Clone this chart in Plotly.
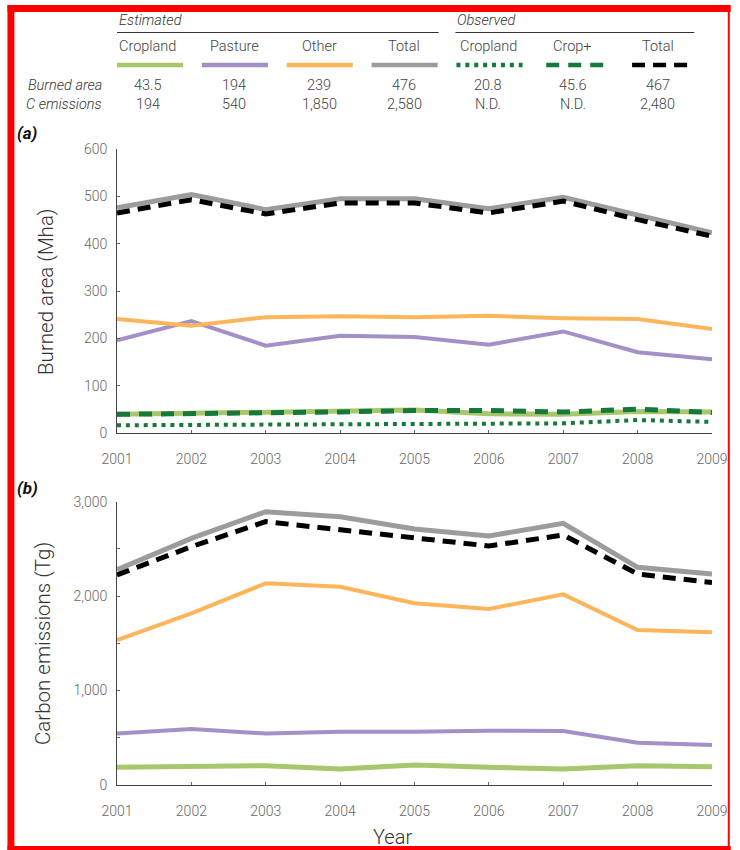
import plotly.graph_objects as go

# ---- data -----------------------------------------------------------------
years = [2001, 2002, 2003, 2004, 2005, 2006, 2007, 2008, 2009]

# (a) burned area, Mha
ba_cropland = [40, 42, 43, 45, 49, 41, 40, 46, 45]
ba_pasture = [196, 237, 185, 206, 203, 187, 215, 171, 156]
ba_other = [241, 227, 245, 247, 245, 248, 243, 241, 220]
ba_total = [476, 504, 472, 495, 495, 474, 498, 461, 423]
ba_obs_cropland = [17, 18, 19, 19, 20, 21, 21, 28, 24]
ba_obs_cropplus = [40, 41, 43, 45, 48, 48, 45, 51, 44]
ba_obs_total = [465, 493, 463, 486, 486, 465, 490, 451, 416]

# (b) carbon emissions, Tg
ce_cropland = [187, 194, 205, 169, 212, 187, 169, 205, 194]
ce_pasture = [545, 593, 545, 565, 565, 575, 572, 448, 424]
ce_other = [1535, 1818, 2136, 2100, 1924, 1864, 2019, 1641, 1617]
ce_total = [2280, 2612, 2894, 2841, 2711, 2637, 2771, 2305, 2234]
ce_obs_total = [2224, 2524, 2789, 2700, 2612, 2531, 2647, 2234, 2143]

# summary table above the panels
col_names = ["Cropland", "Pasture", "Other", "Total", "Cropland", "Crop+", "Total"]
row_names = ["Burned area", "C emissions"]
row_burned = ["43.5", "194", "239", "476", "20.8", "45.6", "467"]
row_emis = ["194", "540", "1,850", "2,580", "N.D.", "N.D.", "2,480"]

# ---- styles ---------------------------------------------------------------
C_CROP = "#a7c76c"
C_PAST = "#a390c6"
C_OTHER = "#fdb55c"
C_TOTAL = "#9c9c9c"
C_OBS = "#14793a"
C_BLACK = "#000000"

styles = [
    dict(color=C_CROP, width=5, dash="solid"),
    dict(color=C_PAST, width=4, dash="solid"),
    dict(color=C_OTHER, width=4, dash="solid"),
    dict(color=C_TOTAL, width=5, dash="solid"),
    dict(color=C_OBS, width=4, dash="4px,4.9px"),
    dict(color=C_OBS, width=5, dash="13px,9px"),
    dict(color=C_BLACK, width=5, dash="13px,8px"),
]

FONT = "Roboto, Liberation Sans, Arial, sans-serif"
TICK_C = "#666666"
TEXT_C = "#333333"
TAB_C = "#444444"
TAB_SIZE = 14.5
W, H = 740, 850
ML, MR, MT, MB = 117, 20, 149, 65
PW, PH = W - ML - MR, H - MT - MB


def px_x(x):
    return (x - ML) / PW


def px_y(y):
    return 1 - (y - MT) / PH


fig = go.Figure()


def add(x, y, st, xa, ya):
    fig.add_trace(go.Scatter(
        x=x, y=y, mode="lines", xaxis=xa, yaxis=ya,
        line=dict(color=st["color"], width=st["width"], dash=st["dash"]),
        hoverinfo="skip", showlegend=False))


# panel (a)
add(years, ba_total, styles[3], "x", "y")
add(years, ba_pasture, styles[1], "x", "y")
add(years, ba_other, styles[2], "x", "y")
add(years, ba_cropland, styles[0], "x", "y")
add(years, ba_obs_total, styles[6], "x", "y")
add(years, ba_obs_cropplus, styles[5], "x", "y")
add(years, ba_obs_cropland, styles[4], "x", "y")

# panel (b)
add(years, ce_cropland, styles[0], "x2", "y2")
add(years, ce_pasture, styles[1], "x2", "y2")
add(years, ce_other, styles[2], "x2", "y2")
add(years, ce_total, styles[3], "x2", "y2")
add(years, ce_obs_total, styles[6], "x2", "y2")

dom_a = [px_y(433.3), 1]
dom_b = [0, px_y(501.7)]

xax = dict(
    range=[2001, 2009], dtick=1, tickformat="d",
    showline=True, linecolor="#444444", linewidth=1,
    ticks="inside", ticklen=3, tickcolor="#666666",
    showgrid=False, zeroline=False,
    tickfont=dict(family=FONT, size=14, color=TICK_C, weight=300),
    ticklabelstandoff=13,
)
yax = dict(
    showline=True, linecolor="#444444", linewidth=1,
    ticks="inside", ticklen=3, tickcolor="#666666",
    showgrid=False, zeroline=False,
    tickfont=dict(family=FONT, size=14, color=TICK_C, weight=300),
    ticklabelstandoff=6,
)

fig.update_layout(
    width=W, height=H,
    margin=dict(l=ML, r=MR, t=MT, b=MB, pad=0),
    paper_bgcolor="white", plot_bgcolor="white",
    font=dict(family=FONT, color=TEXT_C),
    xaxis=dict(**xax, anchor="y", domain=[0, 1]),
    yaxis=dict(**yax, anchor="x", domain=dom_a, range=[0, 600], dtick=100),
    xaxis2=dict(**xax, anchor="y2", domain=[0, 1]),
    yaxis2=dict(**yax, anchor="x2", domain=dom_b, range=[0, 3000], dtick=1000,
                tickformat=",d",
                minor=dict(dtick=500, ticks="inside", ticklen=3, tickcolor="#666666")),
)

ann = []
shapes = []

# axis titles and panel labels
ann.append(dict(text="Burned area (Mha)", x=px_x(45), y=px_y(291), textangle=-90,
                font=dict(size=20.5, color=TEXT_C, family=FONT, weight=300)))
ann.append(dict(text="Carbon emissions (Tg)", x=px_x(42), y=px_y(643), textangle=-90,
                font=dict(size=20.5, color=TEXT_C, family=FONT, weight=300)))
ann.append(dict(text="Year", x=px_x(396), y=px_y(837),
                font=dict(size=20, color=TEXT_C, family=FONT, weight=300)))
ann.append(dict(text="<b><i>(a)</i></b>", x=px_x(14), y=px_y(133), xanchor="left",
                font=dict(size=17, color="#111111", family=FONT)))
ann.append(dict(text="<b><i>(b)</i></b>", x=px_x(14), y=px_y(488), xanchor="left",
                font=dict(size=17, color="#111111", family=FONT)))

# summary table
col_x = [148, 236, 322, 408, 493, 579, 665]
ann.append(dict(text="<i>Estimated</i>", x=px_x(117), y=px_y(20), xanchor="left",
                font=dict(size=TAB_SIZE, color=TEXT_C, family=FONT, weight=300)))
ann.append(dict(text="<i>Observed</i>", x=px_x(460), y=px_y(20), xanchor="left",
                font=dict(size=TAB_SIZE, color=TEXT_C, family=FONT, weight=300)))
for cx, name, v1, v2 in zip(col_x, col_names, row_burned, row_emis):
    ann.append(dict(text=name, x=px_x(cx), y=px_y(47),
                    font=dict(size=TAB_SIZE, color=TAB_C, family=FONT, weight=300)))
    ann.append(dict(text=v1, x=px_x(cx), y=px_y(85),
                    font=dict(size=TAB_SIZE, color=TAB_C, family=FONT, weight=300)))
    ann.append(dict(text=v2, x=px_x(cx), y=px_y(104),
                    font=dict(size=TAB_SIZE, color=TAB_C, family=FONT, weight=300)))
for ry, rn in zip([85, 104], row_names):
    ann.append(dict(text=f"<i>{rn}</i>", x=px_x(104), y=px_y(ry), xanchor="right",
                    font=dict(size=TAB_SIZE, color=TEXT_C, family=FONT, weight=300)))

for a in ann:
    a.update(xref="paper", yref="paper", showarrow=False,
             xanchor=a.get("xanchor", "center"), yanchor="middle")

# rules under the group headings
for x0, x1 in [(117, 443), (460, 702)]:
    shapes.append(dict(type="line", xref="paper", yref="paper",
                       x0=px_x(x0), x1=px_x(x1), y0=px_y(32.5), y1=px_y(32.5),
                       line=dict(color="#333333", width=1)))

# key swatches under the column names
swatch_x = [(117, 184), (203, 270), (289, 356), (375, 442),
            (461, 528), (552, 610), (639, 697)]
for (x0, x1), st in zip(swatch_x, styles):
    shapes.append(dict(type="line", xref="paper", yref="paper",
                       x0=px_x(x0), x1=px_x(x1), y0=px_y(65), y1=px_y(65),
                       line=dict(color=st["color"], width=4.5, dash=st["dash"])))

# red frame
for x0, x1, y0, y1 in [(6, 13, 5, 850), (6, 739, 5, 12), (736, 738, 5, 850), (6, 739, 846, 850)]:
    shapes.append(dict(type="rect", xref="paper", yref="paper",
                       x0=px_x(x0), x1=px_x(x1), y0=px_y(y1), y1=px_y(y0),
                       line=dict(width=0), fillcolor="#ff0000", layer="above"))

fig.update_layout(annotations=ann, shapes=shapes)
fig.write_html("out.html")
